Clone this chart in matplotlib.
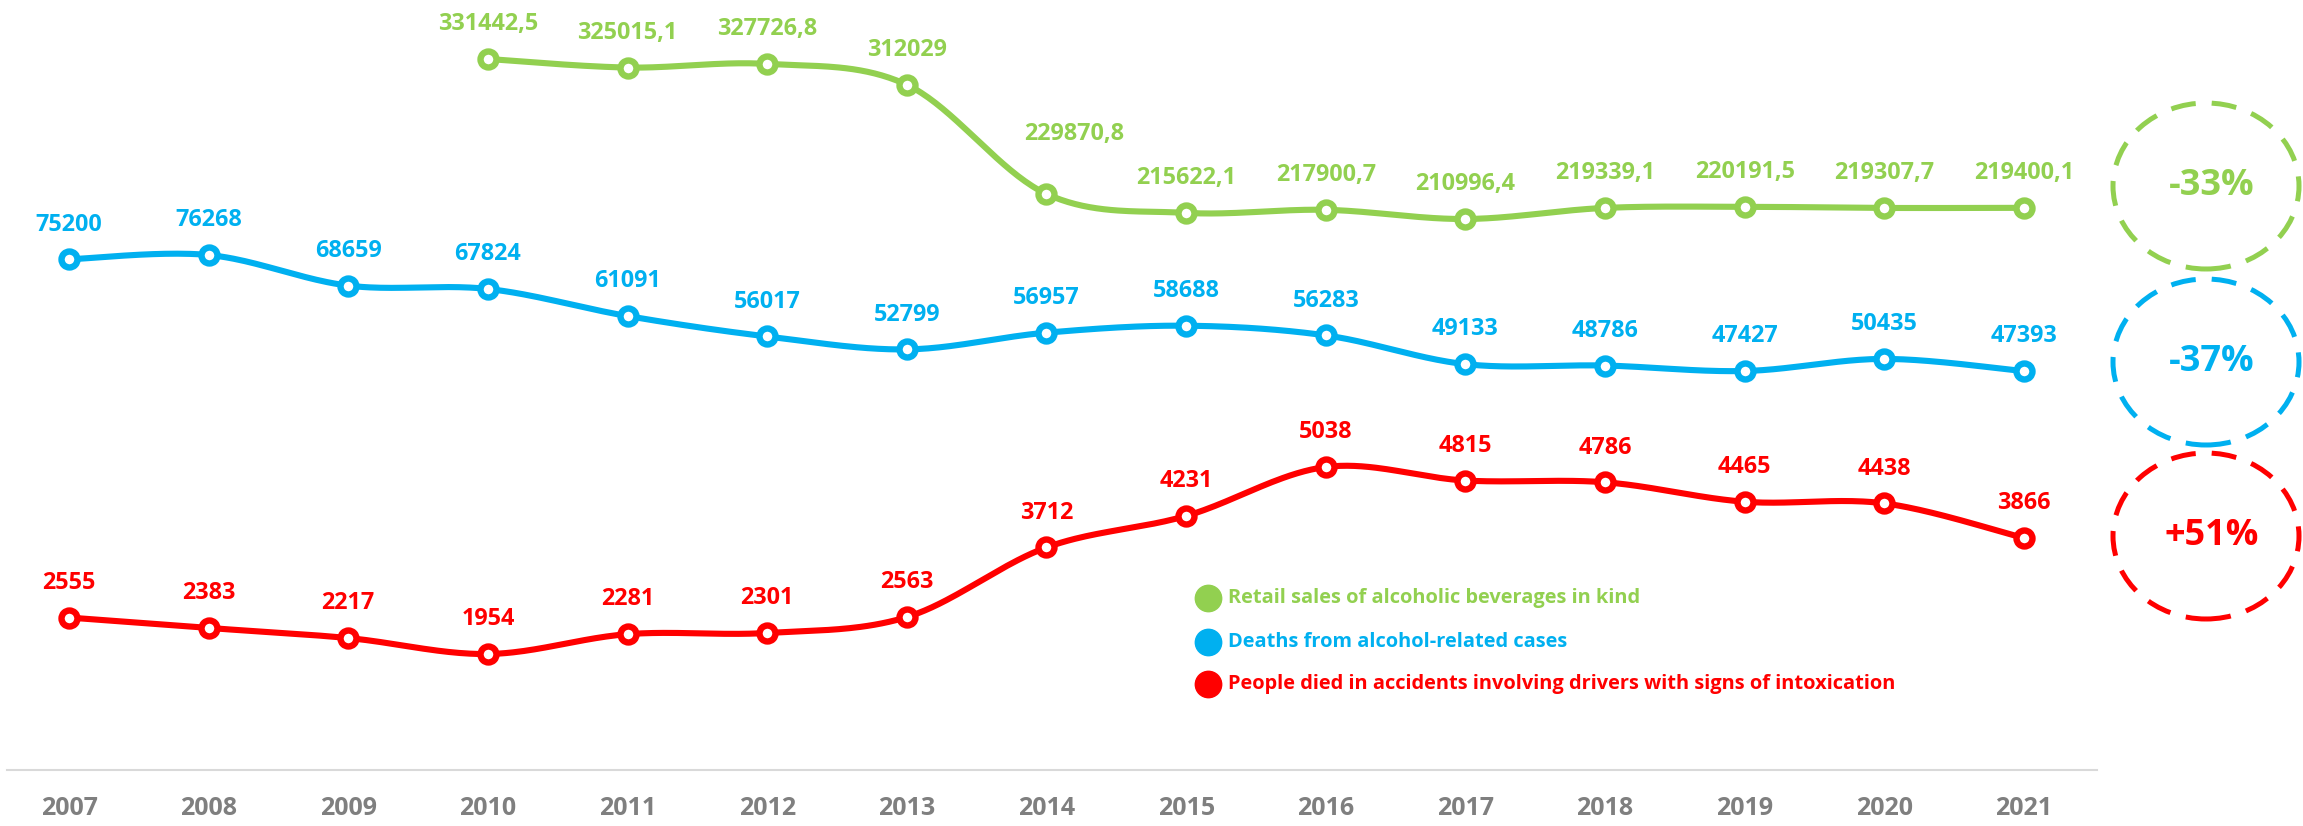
import numpy as np
import matplotlib
matplotlib.use("Agg")
import matplotlib.pyplot as plt
from matplotlib.patches import Ellipse
from matplotlib.lines import Line2D

# ---------------- data ----------------
years = list(range(2007, 2022))
sales_years = list(range(2010, 2022))
sales = [331442.5, 325015.1, 327726.8, 312029, 229870.8, 215622.1, 217900.7,
         210996.4, 219339.1, 220191.5, 219307.7, 219400.1]
deaths = [75200, 76268, 68659, 67824, 61091, 56017, 52799, 56957, 58688,
          56283, 49133, 48786, 47427, 50435, 47393]
accidents = [2555, 2383, 2217, 1954, 2281, 2301, 2563, 3712, 4231, 5038,
             4815, 4786, 4465, 4438, 3866]
series_names = ["Retail sales of alcoholic beverages in kind",
                "Deaths from alcohol-related cases",
                "People died in accidents involving drivers with signs of intoxication"]
changes = ["-33%", "-37%", "+51%"]

GREEN, BLUE, RED = "#92D050", "#00B0F0", "#FF0000"
GREY = "#7F7F7F"
FONT = ["Open Sans", "DejaVu Sans"]
plt.rcParams["font.family"] = FONT
plt.rcParams["font.weight"] = "bold"

W, H = 2303, 826
fig = plt.figure(figsize=(W / 100, H / 100), dpi=100)

# axes area in pixels
left_px, right_px, top_px, base_px = 7, 2097, 0, 770
ax = fig.add_axes([left_px / W, (H - base_px) / H, (right_px - left_px) / W, (base_px - top_px) / H])
ax.patch.set_alpha(0)

step = 139.64
x0_px = 69
ax.set_xlim(2007 - (x0_px - left_px) / step, 2007 + (right_px - x0_px) / step)


def ylim_from(v1, p1, v2, p2):
    s = (v1 - v2) / (p2 - p1)
    top = v1 + (p1 - top_px) * s
    return top - (base_px - top_px) * s, top


def smooth(x, y, n=40):
    P = np.column_stack([np.asarray(x, float), np.asarray(y, float)])
    out = []
    for i in range(len(P) - 1):
        p0 = P[i - 1] if i > 0 else P[i]
        p1, p2 = P[i], P[i + 1]
        p3 = P[i + 2] if i + 2 < len(P) else P[i + 1]
        c1 = p1 + (p2 - p0) / 6
        c2 = p2 - (p3 - p1) / 6
        t = np.linspace(0, 1, n)[:, None]
        seg = (1 - t) ** 3 * p1 + 3 * (1 - t) ** 2 * t * c1 + 3 * (1 - t) * t ** 2 * c2 + t ** 3 * p2
        out.append(seg if i == 0 else seg[1:])
    return np.vstack(out)


def fmt(v):
    return str(int(v)) if float(v).is_integer() else ("%.1f" % v).replace(".", ",")


ax_g = ax.twinx()
ax_b = ax.twinx()
ax_r = ax
ax_g.set_ylim(*ylim_from(331442.5, 59, 210996.4, 219))
ax_b.set_ylim(*ylim_from(76268, 255, 47427, 371))
ax_r.set_ylim(*ylim_from(5038, 467, 1954, 654))

lab_off = {("g", 2014): (20, 43)}
for key, a, xs, ys, col in [("g", ax_g, sales_years, sales, GREEN),
                            ("b", ax_b, years, deaths, BLUE),
                            ("r", ax_r, years, accidents, RED)]:
    c = smooth(xs, ys)
    a.plot(c[:, 0], c[:, 1], color=col, lw=4.4, solid_capstyle="round", zorder=3)
    a.plot(xs, ys, ls="none", marker="o", ms=11.5, mew=4.6, mec=col, mfc="white", zorder=4)
    for x, y in zip(xs, ys):
        dx, dy = lab_off.get((key, x), (0, 25))
        a.annotate(fmt(y), (x, y), xytext=(dx, dy), textcoords="offset points",
                   ha="center", va="center", color=col, fontsize=16.8, fontweight="bold")

for a in (ax, ax_g, ax_b):
    for s in ("top", "left", "right"):
        a.spines[s].set_visible(False)
    a.set_yticks([])
ax_g.spines["bottom"].set_visible(False)
ax_b.spines["bottom"].set_visible(False)
ax.spines["bottom"].set_color("#D9D9D9")
ax.spines["bottom"].set_linewidth(1.5)
ax.set_xticks(years)
ax.set_xticklabels([str(y) for y in years])
ax.tick_params(axis="x", length=0, pad=19, labelsize=18, labelcolor=GREY)
for t in ax.get_xticklabels():
    t.set_fontweight("bold")

# legend (markers + coloured labels)
for row_y, name, col in zip([598, 642, 684], series_names, [GREEN, BLUE, RED]):
    fig.add_artist(Line2D([1208 / W], [1 - row_y / H], ls="none", marker="o", ms=19,
                          color=col, transform=fig.transFigure))
    fig.text(1228 / W, 1 - row_y / H, name, color=col, fontsize=14.4, fontweight="bold",
             ha="left", va="center")

# dashed circles with change percentages
for (cy, col, txt) in [(186, GREEN, changes[0]), (362, BLUE, changes[1]), (536, RED, changes[2])]:
    e = Ellipse((2206 / W, 1 - cy / H), 186 / W, 166 / H, transform=fig.transFigure,
                fill=False, ec=col, lw=3.6, ls=(0, (5, 3.2)))
    fig.patches.append(e)
    fig.text(2212 / W, 1 - cy / H, txt, color=col, fontsize=26, fontweight="bold",
             ha="center", va="center")

fig.savefig("out.png", dpi=100)
